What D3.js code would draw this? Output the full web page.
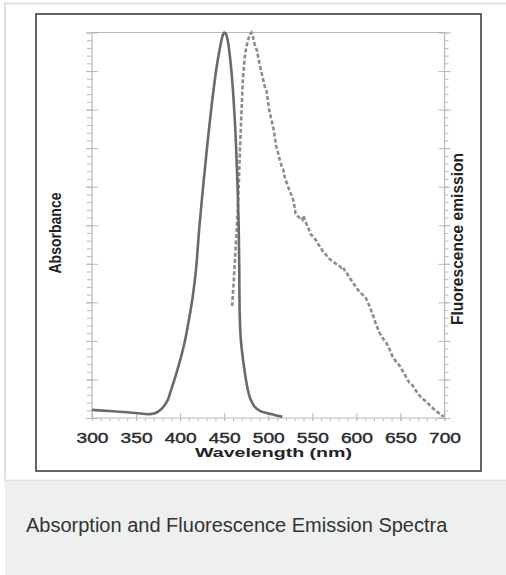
<!DOCTYPE html>
<html>
<head>
<meta charset="utf-8">
<script src="https://cdn.jsdelivr.net/npm/d3@7"></script>
<style>
  body { margin:0; background:#fff; font-family:"Liberation Sans", Arial, sans-serif; }
  svg { display:block; }
</style>
</head>
<body>
<svg id="chart" width="506" height="575"></svg>
<script>
// wavelength (nm) / normalised absorbance
var absorbance = [
  [300,0.021],[320,0.018],[340,0.015],[350,0.013],[366,0.010],[374,0.015],[380,0.026],
  [386,0.047],[390,0.075],[395,0.11],[400,0.15],[405,0.195],[410,0.255],[414,0.31],[418,0.385],
  [422,0.5],[428,0.644],[434,0.775],[441,0.904],[445,0.958],[448,0.99],[450,1.0],
  [452,0.996],[454,0.98],[458,0.905],[462,0.775],[464.5,0.644],[466.3,0.514],[467,0.41],
  [467.7,0.262],[469,0.2],[471.4,0.151],[476.8,0.073],[480,0.048],[484.7,0.029],
  [491,0.018],[498,0.013],[507,0.008],[516,0.003]
];
// wavelength (nm) / normalised fluorescence emission
var emission = [
  [459,0.29],[461,0.36],[463,0.44],[464,0.48],[466,0.57],[468,0.70],[469,0.76],[471,0.87],
  [473,0.93],[475,0.96],[477,0.98],[479,0.995],[481,1.0],[483,0.985],[485,0.965],[487,0.955],
  [490,0.92],[493,0.89],[496,0.86],[498,0.85],[501,0.80],[503,0.78],[506,0.75],[509,0.705],
  [511,0.69],[513,0.67],[515,0.655],[517,0.645],[519,0.62],[521,0.61],[524,0.59],[527,0.575],
  [529,0.56],[531,0.53],[533,0.525],[535,0.52],[537,0.522],[539,0.515],[540,0.525],[542,0.51],
  [544,0.50],[546,0.49],[548,0.477],[551,0.47],[554,0.462],[557,0.45],[560,0.44],[562,0.432],
  [565,0.425],[568,0.416],[571,0.41],[574,0.405],[577,0.40],[580,0.396],[583,0.39],[585,0.392],
  [587,0.38],[589,0.376],[592,0.365],[595,0.355],[598,0.345],[601,0.335],[604,0.326],[607,0.32],
  [611,0.31],[615,0.29],[619,0.265],[622,0.245],[626,0.222],[630,0.207],[634,0.195],[638,0.176],
  [641,0.16],[645,0.146],[649,0.136],[654,0.116],[660,0.092],[664,0.084],[670,0.062],
  [675,0.05],[679,0.043],[685,0.029],[690,0.019],[694,0.012],[699,0.003]
];
var xTicks = [300,350,400,450,500,550,600,650,700];
var xLabel = "Wavelength (nm)";
var leftLabel = "Absorbance";
var rightLabel = "Fluorescence emission";
var caption = "Absorption and Fluorescence Emission Spectra";

var svg = d3.select("#chart");
var plotLeft = 92, plotRight = 444.5, plotTop = 32.5, plotBottom = 418;
var axisCol = "#b9b9b9";

var x = d3.scaleLinear().domain([300,700]).range([plotLeft,plotRight]);
var y = d3.scaleLinear().domain([0,1]).range([plotBottom,plotTop]);

/***********************************************************************************************************/
// card

svg.append("rect").attr("x",5).attr("y",3.5).attr("width",502).attr("height",477)
  .attr("fill","#fff").attr("stroke","#e0e0e0").attr("stroke-width",2);
svg.append("rect").attr("x",5).attr("y",482).attr("width",501).attr("height",93).attr("fill","#eef0ef");
svg.append("text").attr("x",26).attr("y",532).attr("font-size",20).attr("fill","#333")
  .text(caption);

svg.append("rect").attr("x",36).attr("y",14).attr("width",445).attr("height",457)
  .attr("fill","#fff").attr("stroke","#333").attr("stroke-width",1.5);

/***********************************************************************************************************/
// axes

function styleAxis(g){
  g.select(".domain").remove();
  g.selectAll("line").attr("stroke",axisCol).attr("stroke-width",1);
}

// minor y ticks (every 0.02), outside
svg.append("g").attr("transform","translate(" + plotLeft + ",0)")
  .call(d3.axisLeft(y).tickValues(d3.range(0,1.001,0.02)).tickSize(5).tickFormat(""))
  .call(styleAxis);
svg.append("g").attr("transform","translate(" + plotRight + ",0)")
  .call(d3.axisRight(y).tickValues(d3.range(0,1.001,0.02)).tickSize(4).tickFormat(""))
  .call(styleAxis);
// major y ticks (every 0.1), crossing the axis
[plotLeft,plotRight].forEach(function(px){
  svg.append("g").attr("transform","translate(" + (px - 6) + ",0)")
    .call(d3.axisRight(y).tickValues(d3.range(0,1.001,0.1)).tickSize(12).tickFormat(""))
    .call(styleAxis);
});

// minor x ticks (every 10 nm) below, major crossing
svg.append("g").attr("transform","translate(0," + plotBottom + ")")
  .call(d3.axisBottom(x).tickValues(d3.range(300,701,10)).tickSize(3).tickFormat(""))
  .call(styleAxis);
svg.append("g").attr("transform","translate(0," + (plotBottom - 5) + ")")
  .call(d3.axisBottom(x).tickValues(xTicks).tickSize(8).tickFormat(""))
  .call(styleAxis);

// frame lines
svg.append("path")
  .attr("d","M" + plotLeft + "," + plotBottom + "V" + plotTop + "H" + plotRight + "V" + plotBottom + "Z")
  .attr("fill","none").attr("stroke",axisCol).attr("stroke-width",1.2);

// x tick labels
var xl = svg.append("g").attr("transform","translate(0," + plotBottom + ")")
  .call(d3.axisBottom(x).tickValues(xTicks).tickSize(0).tickPadding(14.5).tickFormat(d3.format("d")));
xl.select(".domain").remove();
xl.selectAll("text")
  .attr("font-family","'Liberation Sans', Arial, sans-serif")
  .attr("font-size",15).attr("fill","#2a2a2a")
  .attr("stroke","#2a2a2a").attr("stroke-width",0.4)
  .attr("textLength",32).attr("lengthAdjust","spacingAndGlyphs");

svg.append("text").attr("x",273.5).attr("y",457).attr("text-anchor","middle")
  .attr("font-size",13.5).attr("font-weight","bold").attr("fill","#222")
  .attr("textLength",157).attr("lengthAdjust","spacingAndGlyphs")
  .text(xLabel);

svg.append("text").attr("transform","translate(61,233) rotate(-90)")
  .attr("text-anchor","middle").attr("font-size",17).attr("font-weight","bold").attr("fill","#222")
  .attr("textLength",81).attr("lengthAdjust","spacingAndGlyphs")
  .text(leftLabel);

svg.append("text").attr("transform","translate(462.5,239) rotate(-90)")
  .attr("text-anchor","middle").attr("font-size",17).attr("font-weight","bold").attr("fill","#222")
  .attr("textLength",172).attr("lengthAdjust","spacingAndGlyphs")
  .text(rightLabel);

/***********************************************************************************************************/
// spectra

var line = d3.line().x(function(d){return x(d[0]);}).y(function(d){return y(d[1]);});

svg.append("path").datum(emission)
  .attr("d", line.curve(d3.curveLinear))
  .attr("fill","none").attr("stroke","#8c8c8c").attr("stroke-width",2.6)
  .attr("stroke-dasharray","4,2.2");

svg.append("path").datum(absorbance)
  .attr("d", d3.line().x(function(d){return x(d[0]);}).y(function(d){return y(d[1]);}).curve(d3.curveCatmullRom))
  .attr("fill","none").attr("stroke","#6a6a6a").attr("stroke-width",2.6);
</script>
</body>
</html>
